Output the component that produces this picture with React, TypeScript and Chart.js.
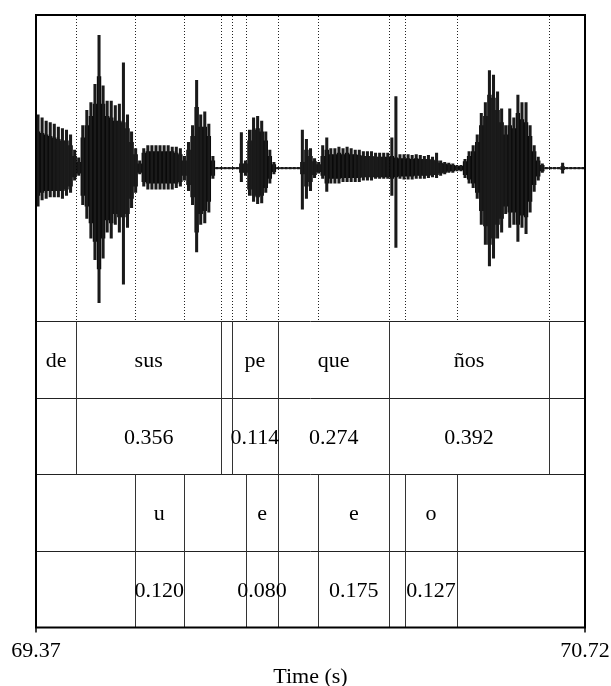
import React, { useEffect, useRef } from 'react';
import { Chart, registerables } from 'chart.js';

Chart.register(...registerables);

// ---- Axis ----
const X_MIN = 69.37;
const X_MAX = 70.72;
const X_TICK_LABELS = ['69.37', '70.72'];
const X_TITLE = 'Time (s)';

// ---- Waveform envelope (10 ms bins starting at 69.37 s), amplitude in [-1, 1] ----
const WAVE_T0 = 69.37;
const WAVE_DT = 0.01;

const peakHigh = [
  0.35, 0.33, 0.31, 0.30, 0.29, 0.27, 0.26, 0.25, 0.22, 0.12,
  0.07, 0.28, 0.38, 0.43, 0.55, 0.87, 0.54, 0.44, 0.44, 0.41,
  0.42, 0.69, 0.35, 0.24, 0.13, 0.05, 0.13, 0.15, 0.15, 0.15,
  0.15, 0.15, 0.15, 0.14, 0.14, 0.13, 0.08, 0.17, 0.28, 0.575,
  0.35, 0.37, 0.29, 0.08, 0.008, 0.008, 0.008, 0.008, 0.008, 0.008,
  0.235, 0.05, 0.25, 0.33, 0.34, 0.31, 0.24, 0.12, 0.04, 0.008,
  0.008, 0.008, 0.008, 0.008, 0.008, 0.25, 0.19, 0.13, 0.065, 0.04,
  0.15, 0.20, 0.13, 0.13, 0.14, 0.13, 0.14, 0.13, 0.12, 0.12,
  0.11, 0.11, 0.11, 0.10, 0.10, 0.10, 0.10, 0.20, 0.47, 0.09,
  0.09, 0.09, 0.085, 0.09, 0.085, 0.08, 0.085, 0.075, 0.10, 0.05,
  0.04, 0.035, 0.03, 0.02, 0.02, 0.06, 0.11, 0.15, 0.22, 0.36,
  0.43, 0.64, 0.61, 0.50, 0.39, 0.28, 0.39, 0.33, 0.48, 0.43,
  0.43, 0.28, 0.15, 0.074, 0.03, 0.008, 0.008, 0.008, 0.008, 0.035,
  0.008, 0.008, 0.008, 0.008, 0.008,
];
const peakLow = [
  -0.25, -0.21, -0.20, -0.19, -0.19, -0.19, -0.20, -0.18, -0.16, -0.08,
  -0.05, -0.24, -0.33, -0.46, -0.60, -0.88, -0.59, -0.42, -0.46, -0.37,
  -0.42, -0.76, -0.39, -0.26, -0.16, -0.04, -0.12, -0.14, -0.14, -0.14,
  -0.14, -0.14, -0.14, -0.14, -0.13, -0.12, -0.08, -0.15, -0.24, -0.55,
  -0.37, -0.36, -0.29, -0.07, -0.008, -0.008, -0.008, -0.008, -0.008, -0.008,
  -0.09, -0.05, -0.18, -0.22, -0.235, -0.23, -0.16, -0.10, -0.04, -0.008,
  -0.008, -0.008, -0.008, -0.008, -0.008, -0.27, -0.20, -0.15, -0.065, -0.035,
  -0.07, -0.155, -0.10, -0.10, -0.10, -0.09, -0.09, -0.09, -0.09, -0.09,
  -0.08, -0.08, -0.08, -0.07, -0.07, -0.07, -0.07, -0.18, -0.52, -0.07,
  -0.075, -0.075, -0.075, -0.07, -0.07, -0.07, -0.065, -0.06, -0.065, -0.05,
  -0.04, -0.03, -0.03, -0.02, -0.02, -0.065, -0.10, -0.13, -0.20, -0.37,
  -0.50, -0.64, -0.59, -0.46, -0.42, -0.30, -0.39, -0.37, -0.48, -0.39,
  -0.43, -0.29, -0.155, -0.08, -0.03, -0.008, -0.008, -0.008, -0.008, -0.035,
  -0.008, -0.008, -0.008, -0.008, -0.008,
];
const coreHigh = [
  0.24, 0.23, 0.22, 0.21, 0.20, 0.19, 0.18, 0.18, 0.15, 0.08,
  0.04, 0.20, 0.28, 0.34, 0.42, 0.60, 0.42, 0.34, 0.33, 0.31,
  0.31, 0.30, 0.26, 0.17, 0.09, 0.03, 0.10, 0.11, 0.11, 0.11,
  0.11, 0.11, 0.11, 0.11, 0.10, 0.09, 0.05, 0.12, 0.21, 0.40,
  0.27, 0.27, 0.21, 0.05, 0.004, 0.004, 0.004, 0.004, 0.004, 0.004,
  0.03, 0.03, 0.18, 0.25, 0.26, 0.24, 0.18, 0.08, 0.025, 0.004,
  0.004, 0.004, 0.004, 0.004, 0.004, 0.04, 0.12, 0.08, 0.045, 0.025,
  0.08, 0.12, 0.09, 0.09, 0.10, 0.09, 0.10, 0.09, 0.09, 0.085,
  0.08, 0.08, 0.08, 0.075, 0.075, 0.075, 0.075, 0.08, 0.07, 0.065,
  0.065, 0.065, 0.06, 0.065, 0.06, 0.06, 0.06, 0.055, 0.05, 0.035,
  0.03, 0.025, 0.02, 0.014, 0.014, 0.045, 0.08, 0.11, 0.17, 0.28,
  0.34, 0.48, 0.46, 0.38, 0.30, 0.22, 0.28, 0.26, 0.36, 0.32,
  0.30, 0.21, 0.11, 0.05, 0.02, 0.004, 0.004, 0.004, 0.004, 0.012,
  0.004, 0.004, 0.004, 0.004, 0.004,
];
const coreLow = [
  -0.18, -0.16, -0.15, -0.15, -0.15, -0.15, -0.15, -0.14, -0.12, -0.06,
  -0.035, -0.18, -0.25, -0.36, -0.48, -0.66, -0.46, -0.34, -0.36, -0.30,
  -0.32, -0.32, -0.30, -0.20, -0.12, -0.03, -0.09, -0.10, -0.10, -0.10,
  -0.10, -0.10, -0.10, -0.10, -0.10, -0.09, -0.05, -0.11, -0.19, -0.42,
  -0.30, -0.28, -0.22, -0.05, -0.004, -0.004, -0.004, -0.004, -0.004, -0.004,
  -0.03, -0.03, -0.14, -0.18, -0.19, -0.18, -0.13, -0.07, -0.025, -0.004,
  -0.004, -0.004, -0.004, -0.004, -0.004, -0.04, -0.12, -0.09, -0.045, -0.025,
  -0.05, -0.10, -0.07, -0.07, -0.07, -0.065, -0.065, -0.065, -0.065, -0.065,
  -0.06, -0.06, -0.06, -0.06, -0.06, -0.06, -0.06, -0.07, -0.06, -0.055,
  -0.055, -0.055, -0.055, -0.05, -0.05, -0.05, -0.05, -0.045, -0.045, -0.035,
  -0.03, -0.022, -0.02, -0.014, -0.014, -0.045, -0.075, -0.10, -0.16, -0.28,
  -0.38, -0.50, -0.46, -0.37, -0.33, -0.25, -0.29, -0.29, -0.37, -0.31,
  -0.32, -0.22, -0.11, -0.055, -0.02, -0.004, -0.004, -0.004, -0.004, -0.012,
  -0.004, -0.004, -0.004, -0.004, -0.004,
];

// ---- TextGrid tiers ----
const tier1Bounds = [69.37, 69.469, 69.825, 69.851, 69.965, 70.239, 70.631, 70.72];
const tier1Labels = ['de', 'sus', '', 'pe', 'que', 'ños', ''];
const tier1Durations = ['', '0.356', '', '0.114', '0.274', '0.392', ''];

const tier2Bounds = [69.37, 69.613, 69.733, 69.886, 69.966, 70.064, 70.239, 70.278, 70.405, 70.72];
const tier2Labels = ['', 'u', '', 'e', '', 'e', '', 'o', ''];
const tier2Durations = ['', '0.120', '', '0.080', '', '0.175', '', '0.127', ''];

const FONT_SIZE = 22;
const FONT = `${FONT_SIZE}px "Liberation Serif", "Times New Roman", serif`;

const decorPlugin = {
  id: 'praatDecor',
  beforeDatasetsDraw(chart: any) {
    const { ctx, scales } = chart;
    const x = scales.x;
    const y = scales.y;
    const inner = Array.from(
      new Set([...tier1Bounds.slice(1, -1), ...tier2Bounds.slice(1, -1)])
    );
    ctx.save();
    ctx.strokeStyle = '#222';
    ctx.lineWidth = 1;
    ctx.setLineDash([1, 2]);
    const yTop = y.getPixelForValue(1);
    const yBot = y.getPixelForValue(-1);
    inner.forEach((b) => {
      const px = Math.round(x.getPixelForValue(b)) + 0.5;
      ctx.beginPath();
      ctx.moveTo(px, yTop + 1);
      ctx.lineTo(px, yBot);
      ctx.stroke();
    });
    ctx.restore();
  },
  afterDatasetsDraw(chart: any) {
    const { ctx, scales, chartArea } = chart;
    const x = scales.x;
    const y = scales.y;
    const L = chartArea.left;
    const R = chartArea.right;
    const T = chartArea.top;
    const B = chartArea.bottom;

    ctx.save();
    ctx.strokeStyle = '#222';
    ctx.lineWidth = 1;
    [-1, -1.5, -2, -2.5].forEach((v) => {
      const py = Math.round(y.getPixelForValue(v)) + 0.5;
      ctx.beginPath();
      ctx.moveTo(L, py);
      ctx.lineTo(R, py);
      ctx.stroke();
    });

    const drawTier = (bounds: number[], labels: string[], durs: string[], yHi: number, yLo: number) => {
      const pTop = y.getPixelForValue(yHi);
      const pBot = y.getPixelForValue(yLo);
      ctx.strokeStyle = '#333';
      ctx.lineWidth = 1;
      bounds.slice(1, -1).forEach((b) => {
        const px = Math.round(x.getPixelForValue(b)) + 0.5;
        ctx.beginPath();
        ctx.moveTo(px, pTop);
        ctx.lineTo(px, pBot);
        ctx.stroke();
      });
      ctx.fillStyle = '#000';
      ctx.font = FONT;
      ctx.textAlign = 'center';
      ctx.textBaseline = 'alphabetic';
      const mid = (yHi + yLo) / 2;
      const rowText = y.getPixelForValue((yHi + mid) / 2) + FONT_SIZE * 0.34;
      const rowDur = y.getPixelForValue((mid + yLo) / 2) + FONT_SIZE * 0.34;
      for (let i = 0; i < labels.length; i++) {
        const cx = x.getPixelForValue((bounds[i] + bounds[i + 1]) / 2);
        if (labels[i]) ctx.fillText(labels[i], cx, rowText);
        if (durs[i]) ctx.fillText(durs[i], cx, rowDur);
      }
    };
    drawTier(tier1Bounds, tier1Labels, tier1Durations, -1, -2);
    drawTier(tier2Bounds, tier2Labels, tier2Durations, -2, -3);

    ctx.strokeStyle = '#000';
    ctx.lineWidth = 2;
    ctx.strokeRect(L, T, R - L, B - T);
    ctx.lineWidth = 1.5;
    [X_MIN, X_MAX].forEach((v) => {
      const px = x.getPixelForValue(v);
      ctx.beginPath();
      ctx.moveTo(px, B);
      ctx.lineTo(px, B + 5);
      ctx.stroke();
    });
    ctx.fillStyle = '#000';
    ctx.font = FONT;
    ctx.textAlign = 'center';
    ctx.textBaseline = 'alphabetic';
    ctx.fillText(X_TICK_LABELS[0], x.getPixelForValue(X_MIN), B + 29.5);
    ctx.fillText(X_TICK_LABELS[1], x.getPixelForValue(X_MAX), B + 29.5);
    ctx.fillText(X_TITLE, (L + R) / 2, B + 55.5);
    ctx.restore();
  },
};

export default function App() {
  const ref = useRef<HTMLCanvasElement | null>(null);

  useEffect(() => {
    document.body.style.margin = '0';
    document.body.style.background = '#fff';
    const canvas = ref.current;
    if (!canvas) return;
    const times = peakHigh.map((_, i) => WAVE_T0 + WAVE_DT * (i + 0.5));
    const chart = new Chart(canvas, {
      type: 'bar',
      data: {
        datasets: [
          {
            label: 'peaks',
            data: times.map((t, i) => ({ x: t, y: [peakLow[i], peakHigh[i]] })) as any,
            backgroundColor: '#1a1a1a',
            borderWidth: 0,
            barPercentage: 0.75,
            categoryPercentage: 1,
            grouped: false,
          } as any,
          {
            label: 'core',
            data: times.map((t, i) => ({ x: t, y: [coreLow[i], coreHigh[i]] })) as any,
            backgroundColor: '#000',
            borderWidth: 0,
            barPercentage: 1.08,
            categoryPercentage: 1,
            grouped: false,
          } as any,
        ],
      },
      options: {
        responsive: false,
        animation: false,
        events: [],
        layout: { padding: { left: 36, right: 26, top: 15, bottom: 58.5 } },
        plugins: { legend: { display: false }, tooltip: { enabled: false } },
        scales: {
          x: { type: 'linear', min: X_MIN, max: X_MAX, display: false, offset: false },
          y: { type: 'linear', min: -3, max: 1, display: false },
        },
      } as any,
      plugins: [decorPlugin],
    });
    return () => chart.destroy();
  }, []);

  return (
    <canvas
      ref={ref}
      width={611}
      height={686}
      style={{ display: 'block', width: 611, height: 686 }}
    />
  );
}
